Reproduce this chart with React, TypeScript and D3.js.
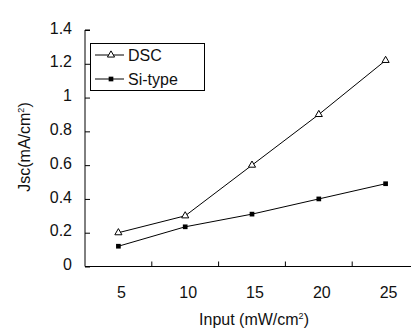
import React, { useRef, useEffect } from "react";
import * as d3 from "d3";

const inputs = ["5", "10", "15", "20", "25"];
const dscValues = [0.2, 0.3, 0.6, 0.9, 1.22];
const siValues = [0.12, 0.235, 0.31, 0.4, 0.49];
const yTicks = [0, 0.2, 0.4, 0.6, 0.8, 1, 1.2, 1.4];

const App = () => {
  const svgRef = useRef<SVGSVGElement>(null);

  useEffect(() => {
    const svg = d3.select(svgRef.current);
    svg.selectAll("*").remove();

    const font = "'Liberation Sans', Arial, sans-serif";
    const left = 85;
    const bottom = 266.5;
    const top = 30;

    const x = d3.scaleBand().domain(inputs).range([left, left + 5 * 66.8]);
    const y = d3.scaleLinear().domain([0, 1.4]).range([bottom, top]);
    const cx = (d: string) => (x(d) as number) + x.bandwidth() / 2;

    svg.append("rect").attr("width", 411).attr("height", 329).attr("fill", "white");

    // axes
    const yAxis = svg.append("g").attr("transform", `translate(${left},0)`)
      .call(d3.axisRight(y).tickValues(yTicks).tickSize(5).tickFormat(() => ""));
    yAxis.select(".domain").attr("d", `M5,${top}H0V${bottom}`);
    yAxis.selectAll("line").attr("stroke", "#000");

    const xAxis = svg.append("g").attr("transform", `translate(0,${bottom})`)
      .call(d3.axisTop(x).tickSize(0).tickFormat(() => ""));
    xAxis.select(".domain").attr("d", `M${left},0H411`).attr("stroke", "#000");
    svg.append("g").selectAll("line")
      .data(inputs.slice(1))
      .join("line")
      .attr("x1", d => x(d) as number)
      .attr("x2", d => x(d) as number)
      .attr("y1", bottom)
      .attr("y2", bottom - 5)
      .attr("stroke", "#000");

    svg.append("g").selectAll("text")
      .data(yTicks)
      .join("text")
      .attr("x", 72)
      .attr("y", d => y(d) - 2)
      .attr("dy", "0.35em")
      .attr("text-anchor", "end")
      .style("font-family", font)
      .style("font-size", "16px")
      .attr("fill", "#111")
      .text(d => (d === 0 || d === 1 ? String(d) : d.toFixed(1)));

    svg.append("g").selectAll("text")
      .data(inputs)
      .join("text")
      .attr("x", d => cx(d) + 3)
      .attr("y", 292)
      .attr("dy", "0.35em")
      .attr("text-anchor", "middle")
      .style("font-family", font)
      .style("font-size", "16px")
      .attr("fill", "#111")
      .text(d => d);

    const xTitle = svg.append("text")
      .attr("x", 254)
      .attr("y", 325)
      .attr("text-anchor", "middle")
      .style("font-family", font)
      .style("font-size", "16px")
      .attr("fill", "#111");
    xTitle.append("tspan").text("Input (mW/cm");
    xTitle.append("tspan").attr("dy", -6).style("font-size", "9px").text("2");
    xTitle.append("tspan").attr("dy", 6).text(")");

    const yTitle = svg.append("text")
      .attr("transform", "translate(30,147) rotate(-90)")
      .attr("text-anchor", "middle")
      .style("font-family", font)
      .style("font-size", "16px")
      .attr("fill", "#111");
    yTitle.append("tspan").text("Jsc(mA/cm");
    yTitle.append("tspan").attr("dy", -6).style("font-size", "9px").text("2");
    yTitle.append("tspan").attr("dy", 6).text(")");

    // lines
    const line = d3.line<number>().x((_, i) => cx(inputs[i])).y(d => y(d));
    const triangle = d3.symbol().type(d3.symbolTriangle).size(22);
    const square = d3.symbol().type(d3.symbolSquare).size(22);

    svg.append("path").attr("d", line(dscValues)).attr("fill", "none").attr("stroke", "#000").attr("stroke-width", 1);
    svg.append("path").attr("d", line(siValues)).attr("fill", "none").attr("stroke", "#000").attr("stroke-width", 1);

    svg.append("g").selectAll("path")
      .data(dscValues)
      .join("path")
      .attr("transform", (d, i) => `translate(${cx(inputs[i])},${y(d)})`)
      .attr("d", triangle())
      .attr("fill", "white")
      .attr("stroke", "#000");

    svg.append("g").selectAll("path")
      .data(siValues)
      .join("path")
      .attr("transform", (d, i) => `translate(${cx(inputs[i])},${y(d)})`)
      .attr("d", square())
      .attr("fill", "#000");

    // legend
    const lg = svg.append("g");
    lg.append("rect")
      .attr("x", 90.5).attr("y", 43.5).attr("width", 114).attr("height", 47)
      .attr("fill", "white").attr("stroke", "#000");
    const items = [
      { name: "DSC", y: 55, sym: "tri" },
      { name: "Si-type", y: 79, sym: "sq" },
    ];
    items.forEach(it => {
      lg.append("line").attr("x1", 95).attr("x2", 124).attr("y1", it.y).attr("y2", it.y).attr("stroke", "#000");
      lg.append("path")
        .attr("transform", `translate(111,${it.y})`)
        .attr("d", it.sym === "tri" ? triangle() : square())
        .attr("fill", it.sym === "tri" ? "white" : "#000")
        .attr("stroke", it.sym === "tri" ? "#000" : "none");
      lg.append("text")
        .attr("x", 128)
        .attr("y", it.y)
        .attr("dy", "0.35em")
        .style("font-family", font)
        .style("font-size", "16px")
        .attr("fill", "#111")
        .text(it.name);
    });
  }, []);

  return (
    <svg
      ref={svgRef}
      width={411}
      height={329}
      style={{ position: "absolute", left: 0, top: 0 }}
    ></svg>
  );
};

export default App;
